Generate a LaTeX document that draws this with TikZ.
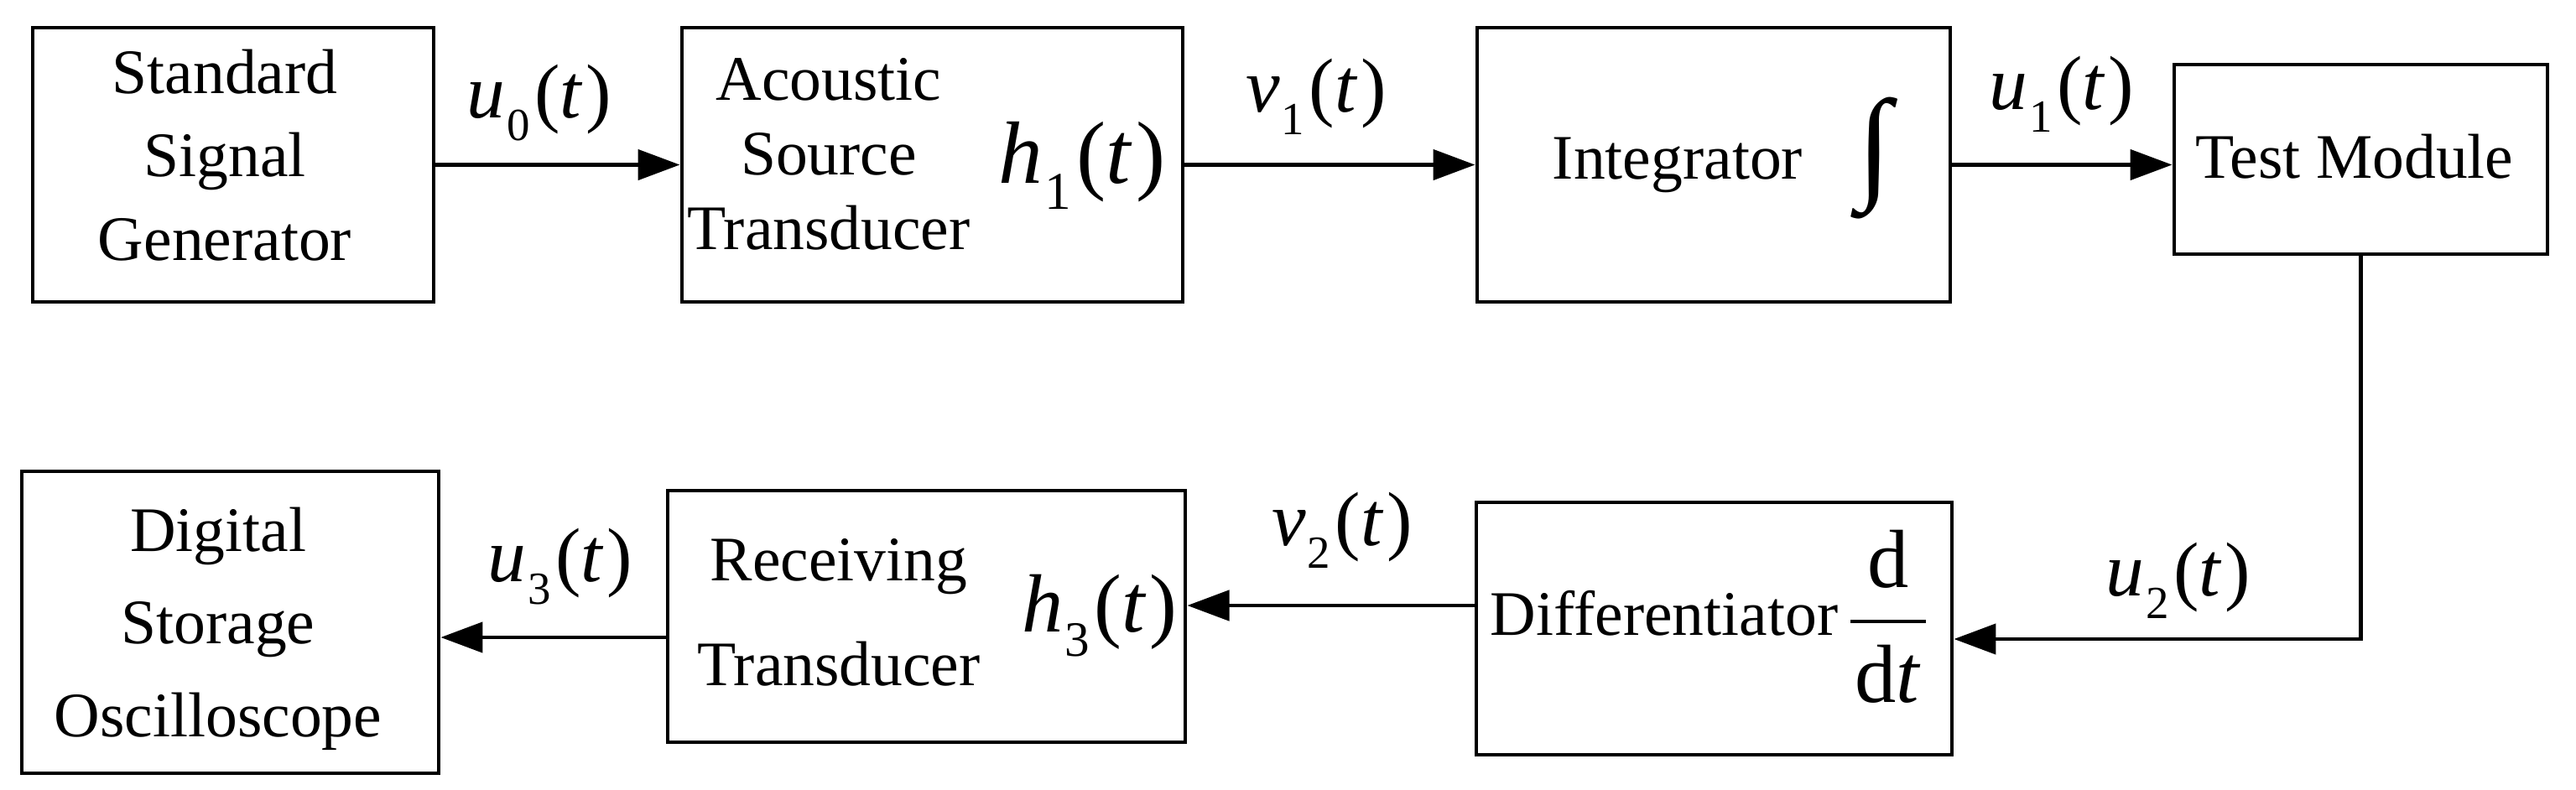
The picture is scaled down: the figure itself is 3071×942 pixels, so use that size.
\documentclass[tikz,border=0pt]{standalone}
\usepackage{graphicx}
\usepackage{fontspec}
\setmainfont{Liberation Serif}
\usetikzlibrary{arrows.meta}
\setlength{\arrayrulewidth}{1.1pt}
\newcommand{\sgl}[2]{\textit{#1}\kern0.02em\raisebox{-0.3em}{\scalebox{0.6}{#2}}\kern0.06em(\textit{t}\kern0.04em)}
\begin{document}
\begin{tikzpicture}[x=0.01cm,y=-0.01cm,
  box/.style={draw=black, line width=1.3pt, inner sep=0pt},
  txt/.style={inner sep=0pt, align=center},
  body/.style={font=\fontsize{21.5}{#1}\selectfont},
  lab/.style={inner sep=0pt, anchor=base, font=\fontsize{#1}{#1}\selectfont},
  arr/.style={line width=1.3pt, -{Triangle[length=0.5cm,width=0.36cm]}}]
\fill[white] (0,0) rectangle (3071,942);
\useasboundingbox (0,0) rectangle (3071,942);

% boxes
\node[box, minimum width=4.78cm, minimum height=3.27cm] (gen) at (278,196.5) {};
\node[box, minimum width=5.97cm, minimum height=3.27cm] (src) at (1111.5,196.5) {};
\node[box, minimum width=5.64cm, minimum height=3.27cm] (int) at (2043,196.5) {};
\node[box, minimum width=4.45cm, minimum height=2.26cm] (test) at (2814.5,190) {};
\node[box, minimum width=5.67cm, minimum height=3.01cm] (dif) at (2043.5,749.5) {};
\node[box, minimum width=6.17cm, minimum height=3.00cm] (rec) at (1104.5,735) {};
\node[box, minimum width=4.97cm, minimum height=3.60cm] (dso) at (274.5,742) {};

% texts (base anchor = baseline of the last line)
\node[txt, body=28.2pt, anchor=base] (tgen) at (268,310) {Standard\\Signal\\Generator};
\node[txt, body=25.3pt, anchor=base] (tsrc) at (988,297) {Acoustic\\Source\\Transducer};
\node[lab=30] (h1) at (1290,218) {\sgl{h}{1}};
\node[txt, body=26pt, anchor=base] (tint) at (2000,213) {Integrator};
\node[inner sep=0pt, font=\fontsize{42}{42}\selectfont] (isym) at (2235,189) {∫};
\node[txt, body=26pt, anchor=base] (ttest) at (2807,212) {Test Module};
\node[txt, body=26pt, anchor=base] (tdif) at (1984,757) {Differentiator};
\node[inner sep=0pt, anchor=base, font=\fontsize{28}{28}\selectfont] (ddt) at (2251,700)
  {\begin{tabular}[t]{@{\kern1.5pt}c@{\kern1.5pt}}\rule[-11pt]{0pt}{0pt}d\\\hline\rule{0pt}{27pt}d\textit{t}\end{tabular}};
\node[txt, body=35.3pt, anchor=base] (trec) at (1000,817) {Receiving\\Transducer};
\node[lab=28] (h3) at (1311,753) {\sgl{h}{3}};
\node[txt, body=31.3pt, anchor=base] (tdso) at (260,878) {Digital\\Storage\\Oscilloscope};

% connectors
\draw[arr] (gen.east) -- (src.west);
\draw[arr] (src.east) -- (int.west);
\draw[arr] (int.east) -- (int.east -| test.west);
\coordinate (turn) at (2814.5,762);
\draw[arr] (test.south) -- (turn) -- (turn -| dif.east);
\coordinate (yv) at (0,722);
\draw[arr] (dif.west |- yv) -- (rec.east |- yv);
\coordinate (yu) at (0,760);
\draw[arr] (rec.west |- yu) -- (dso.east |- yu);

% signal labels
\node[lab=26] (u0) at (643,140) {\sgl{u}{0}};
\node[lab=26] (v1) at (1569,133) {\sgl{v}{1}};
\node[lab=26] (u1) at (2458,130) {\sgl{u}{1}};
\node[lab=26] (u2) at (2597,710) {\sgl{u}{2}};
\node[lab=26] (v2) at (1600,650) {\sgl{v}{2}};
\node[lab=26] (u3) at (668,693) {\sgl{u}{3}};
\end{tikzpicture}
\end{document}
